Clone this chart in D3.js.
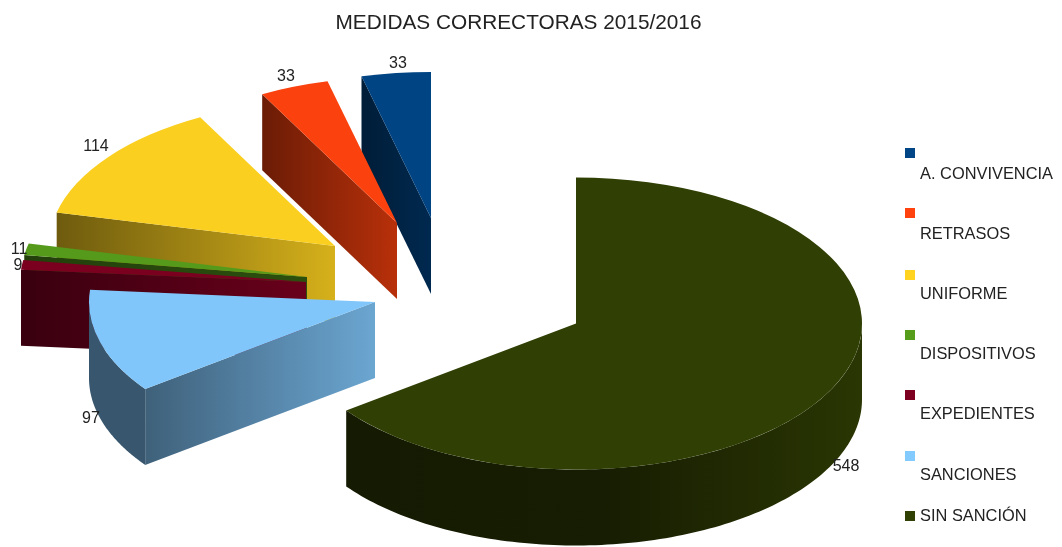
<!DOCTYPE html>
<html>
<head>
<meta charset="utf-8">
<script src="https://cdn.jsdelivr.net/npm/d3@7"></script>
<style>
  body { margin: 0; background: #fff; }
  svg { filter: blur(0.35px); }
  text { font-family: "Liberation Sans", Arial, sans-serif; fill: #222; }
</style>
</head>
<body>
<script>
// Chart data, in legend order (also back-to-front drawing order)
var categories = ["A. CONVIVENCIA", "RETRASOS", "UNIFORME", "DISPOSITIVOS", "EXPEDIENTES", "SANCIONES", "SIN SANCIÓN"];
var values = [33, 33, 114, 11, 9, 97, 548];
var colors = ["#004586", "#ff420e", "#ffd320", "#579d1c", "#7e0021", "#83caff", "#314004"];

// Where each slice was dragged to (centre of the slice's top face)
var sliceX = [431, 397, 335, 307, 306, 375, 576];
var sliceY = [218, 223, 246, 277, 282, 302, 323.5];

// Value label positions
var labelX = [398, 286, 96, 19, 18, 91, 846];
var labelY = [68, 81, 151, 254, 270, 423, 471];

// Legend layout
var legendBoxY = [148, 208, 270, 330, 390, 451, 511];
var legendTextY = [179, 239, 299, 359, 419, 480, 521];

// Cut face shading (left / middle / right multiple of the slice colour)
var shadeLeft = [0.42, 0.42, 0.43, 0.4, 0.45, 0.48, 0.42];
var shadeMid = [0.5, 0.57, 0.63, 0.45, 0.64, 0.65, 0.46];
var shadeRight = [0.6, 0.72, 0.84, 0.5, 0.83, 0.82, 0.85];

var width = 1062;
var height = 547;
var rx = 286;
var ry = 146;
var depth = 76;
var topShade = 0.98;

var svg = d3.select("body")
    .append("svg")
    .attr("width", width)
    .attr("height", height)
    .style("display", "block");

var defs = svg.append("defs");

function shade(color, k) {
    var c = d3.rgb(color);
    return d3.rgb(c.r * k, c.g * k, c.b * k).formatHex();
}

// Pie runs counter-clockwise from the top so the last category starts at 12 o'clock
var pie = d3.pie().sort(null).startAngle(2 * Math.PI).endAngle(0);
var slices = pie(values);

var arc = d3.arc().innerRadius(0).outerRadius(rx);

// Point on the rim of the ellipse
function rim(angle) {
    var p = d3.pointRadial(angle, rx);
    return [p[0], p[1] * ry / rx];
}

var line = d3.line();

var wallArea = d3.area()
    .x(function (a) { return rim(a)[0]; })
    .y0(function (a) { return rim(a)[1]; })
    .y1(function (a) { return rim(a)[1] + depth; });

var group = svg.selectAll("g.slice")
    .data(slices)
    .enter()
    .append("g")
    .attr("class", "slice")
    .attr("transform", function (d, i) { return "translate(" + sliceX[i] + "," + sliceY[i] + ")"; });

group.each(function (d, i) {
    var g = d3.select(this);
    var low = d.endAngle;
    var high = d.startAngle;

    var grad = defs.append("linearGradient").attr("id", "face" + i);
    grad.append("stop").attr("offset", 0).attr("stop-color", shade(colors[i], shadeLeft[i]));
    grad.append("stop").attr("offset", 0.5).attr("stop-color", shade(colors[i], shadeMid[i]));
    grad.append("stop").attr("offset", 1).attr("stop-color", shade(colors[i], shadeRight[i]));

    // Outer curved wall, only the part facing the viewer
    var a0 = Math.max(low, Math.PI / 2);
    var a1 = Math.min(high, 3 * Math.PI / 2);
    if (a1 > a0) {
        // the short left-facing wall stays flat and dark, the big one runs along the gradient
        var wallFill = (a1 - a0 < 1) ? shade(colors[i], shadeLeft[i] - 0.05) : "url(#face" + i + ")";
        g.append("path")
            .attr("d", wallArea(d3.range(0, 121).map(function (k) { return a0 + (a1 - a0) * k / 120; })))
            .attr("fill", wallFill);
    }

    // Radial cut face, whichever edge looks down at the viewer
    var edge = null;
    if (low > Math.PI && low < 2 * Math.PI) edge = low;
    else if (high > 0 && high < Math.PI) edge = high;
    if (edge !== null) {
        var p = rim(edge);
        g.append("path")
            .attr("d", line([[0, 0], p, [p[0], p[1] + depth], [0, depth]]) + "Z")
            .attr("fill", "url(#face" + i + ")");
    }

    // Top face
    g.append("path")
        .attr("transform", "scale(1," + (ry / rx) + ")")
        .attr("d", arc({ startAngle: low, endAngle: high }))
        .attr("fill", shade(colors[i], topShade));
});

// Title
svg.append("text")
    .attr("x", 518.5)
    .attr("y", 29)
    .attr("text-anchor", "middle")
    .style("font-size", "20.8px")
    .text("MEDIDAS CORRECTORAS 2015/2016");

// Value labels
svg.selectAll("text.value")
    .data(values)
    .enter()
    .append("text")
    .attr("class", "value")
    .attr("x", function (d, i) { return labelX[i]; })
    .attr("y", function (d, i) { return labelY[i]; })
    .attr("text-anchor", "middle")
    .style("font-size", "16px")
    .text(function (d) { return d; });

// Legend
var legend = svg.selectAll("g.legend")
    .data(categories)
    .enter()
    .append("g")
    .attr("class", "legend");

legend.append("rect")
    .attr("x", 905)
    .attr("y", function (d, i) { return legendBoxY[i]; })
    .attr("width", 10)
    .attr("height", 10)
    .attr("fill", function (d, i) { return colors[i]; });

legend.append("text")
    .attr("x", 920)
    .attr("y", function (d, i) { return legendTextY[i]; })
    .style("font-size", "16.4px")
    .text(function (d) { return d; });
</script>
</body>
</html>
